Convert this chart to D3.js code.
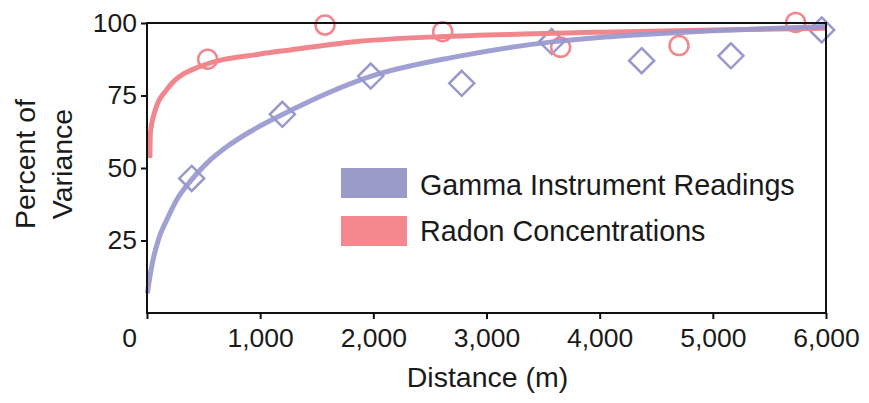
<!DOCTYPE html>
<html>
<head>
<meta charset="utf-8">
<script src="https://cdn.jsdelivr.net/npm/d3@7"></script>
<style>
  html, body { margin: 0; padding: 0; background: #fff; }
  svg { display: block; font-family: Arial, "Liberation Sans", sans-serif; }
</style>
</head>
<body>
<svg id="chart" width="869" height="403"></svg>
<script>
// ---- data ----
const xTicks = [0, 1000, 2000, 3000, 4000, 5000, 6000];
const yTicks = [25, 50, 75, 100];

const gammaX = [395, 1196, 1977, 2781, 3576, 4371, 5160, 5962];
const gammaY = [46.4, 68.5, 81.7, 79.2, 93.6, 87.0, 88.7, 97.6];

const radonX = [536, 1573, 2613, 3655, 4701, 5732];
const radonY = [87.5, 99.3, 97.0, 91.6, 92.2, 100.2];

const gammaFitX = [3, 41, 100, 174, 262, 380, 527, 704, 910, 1175, 1970, 2737, 3561, 4000, 4500, 5000, 5500, 6000];
const gammaFitY = [6.8, 16, 25.2, 32.1, 39, 45.3, 51.6, 57.3, 62.5, 68.0, 81.5, 88.4, 93.4, 95.0, 96.3, 97.3, 98.1, 98.8];

const radonFitX = [25, 30, 73, 174, 468, 1000, 1264, 1853, 2589, 3325, 4003, 5000, 6000];
const radonFitY = [53.4, 62, 70, 77, 85, 89.3, 90.7, 93.6, 95.3, 96.2, 96.8, 97.6, 98.2];

const seriesNames = ["Gamma Instrument Readings", "Radon Concentrations"];
const colors = { gamma: "#9898cf", radon: "#f2868d" };
const swatchColors = ["#9a9ac9", "#f4888e"];

// ---- layout ----
const svg = d3.select("#chart");
const L = 147, R = 826, T = 23, B = 313;
const x = d3.scaleLinear().domain([0, 6000]).range([L, R]);
const y = d3.scaleLinear().domain([0, 100]).range([B, T]);

// markers
const gPts = svg.append("g");
gPts.selectAll("path.diamond")
  .data(gammaX.map((d, i) => [d, gammaY[i]]))
  .join("path")
  .attr("class", "diamond")
  .attr("d", d => {
    const cx = x(d[0]), cy = y(d[1]), s = 12.5;
    return `M${cx},${cy - s}L${cx + s},${cy}L${cx},${cy + s}L${cx - s},${cy}Z`;
  })
  .attr("fill", "none")
  .attr("stroke", colors.gamma)
  .attr("stroke-width", 2.5);

gPts.selectAll("circle")
  .data(radonX.map((d, i) => [d, radonY[i]]))
  .join("circle")
  .attr("cx", d => x(d[0]))
  .attr("cy", d => y(d[1]))
  .attr("r", 9.5)
  .attr("fill", "none")
  .attr("stroke", colors.radon)
  .attr("stroke-width", 2.5);

// fitted curves
const line = d3.line().x(d => x(d[0])).y(d => y(d[1])).curve(d3.curveMonotoneX);
svg.append("path")
  .datum(radonFitX.map((d, i) => [d, radonFitY[i]]))
  .attr("d", line)
  .attr("fill", "none")
  .attr("stroke", colors.radon)
  .attr("stroke-width", 5)
  .attr("stroke-linecap", "butt");
svg.append("path")
  .datum(gammaFitX.map((d, i) => [d, gammaFitY[i]]))
  .attr("d", line)
  .attr("fill", "none")
  .attr("stroke", colors.gamma)
  .attr("stroke-opacity", 0.92)
  .attr("stroke-width", 5)
  .attr("stroke-linecap", "butt");

// frame
svg.append("rect")
  .attr("x", L).attr("y", T)
  .attr("width", R - L).attr("height", B - T)
  .attr("fill", "none")
  .attr("stroke", "#111")
  .attr("stroke-width", 2);

// axes
const xAxis = svg.append("g")
  .attr("transform", `translate(0,${B})`)
  .call(d3.axisBottom(x).tickValues(xTicks).tickFormat(d3.format(",")).tickSize(6).tickSizeOuter(0).tickPadding(9));
const yAxis = svg.append("g")
  .attr("transform", `translate(${L},0)`)
  .call(d3.axisLeft(y).tickValues(yTicks).tickSize(6).tickSizeOuter(0).tickPadding(4));

[xAxis, yAxis].forEach(a => {
  a.select(".domain").remove();
  a.selectAll(".tick line").attr("stroke", "#111").attr("stroke-width", 2);
  a.selectAll(".tick text")
    .attr("fill", "#1a1a1a")
    .style("font-size", "26.5px")
    .style("font-family", "Arial, 'Liberation Sans', sans-serif");
});
// the "0" label sits left of its tick in the original
xAxis.selectAll(".tick text").filter(d => d === 0).attr("dx", -18);

// axis titles
svg.append("text")
  .attr("x", (L + R) / 2 + 1)
  .attr("y", 387)
  .attr("text-anchor", "middle")
  .attr("fill", "#1a1a1a")
  .style("font-size", "28.5px")
  .text("Distance (m)");

const yl = svg.append("text")
  .attr("transform", "translate(0,164) rotate(-90)")
  .attr("text-anchor", "middle")
  .attr("fill", "#1a1a1a")
  .style("font-size", "28.5px");
yl.append("tspan").attr("x", 0).attr("y", 35).text("Percent of");
yl.append("tspan").attr("x", 0).attr("y", 72).text("Variance");

// legend
const lg = svg.append("g");
seriesNames.forEach((name, i) => {
  const top = 168 + i * 48;
  lg.append("rect")
    .attr("x", 341).attr("y", top)
    .attr("width", 66).attr("height", 30)
    .attr("fill", swatchColors[i]);
  lg.append("text")
    .attr("x", 420).attr("y", top + 26.5 - i * 2)
    .attr("fill", "#1a1a1a")
    .style("font-size", "28.7px")
    .text(name);
});
</script>
</body>
</html>
